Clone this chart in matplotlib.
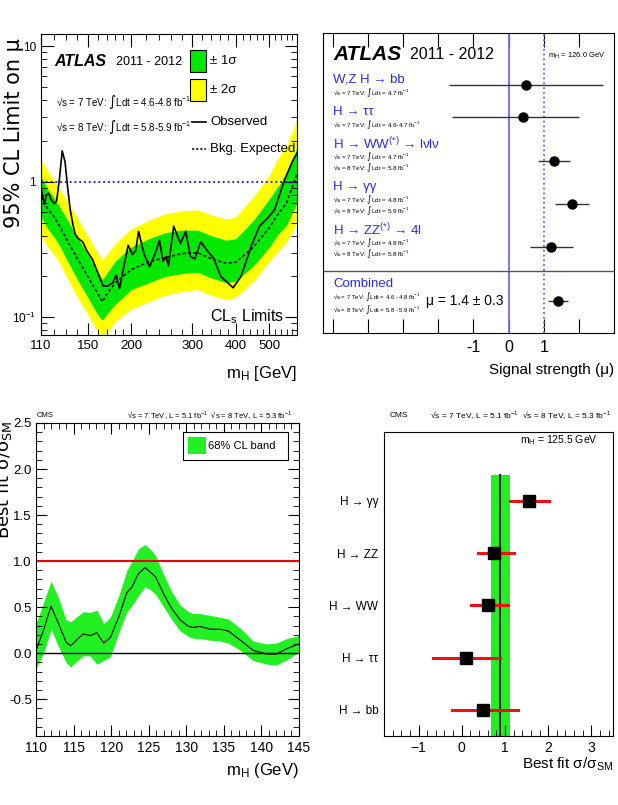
import matplotlib
matplotlib.use("Agg")
import matplotlib.pyplot as plt
from matplotlib.patches import Rectangle
from matplotlib.ticker import FixedLocator, FixedFormatter, NullFormatter, LogLocator, MultipleLocator

plt.rcParams['font.family'] = ['Liberation Sans', 'DejaVu Sans']
plt.rcParams['mathtext.default'] = 'regular'

W, H = 618, 805

# ---- ATLAS limit (top left) ----
mass_obs = [110, 111, 112.5, 114, 115.8, 117.5, 120, 122, 124.3, 126.6, 129, 131, 133.5, 136, 138,
            141, 145, 149, 155, 160.6, 166, 171, 177, 181, 185, 190, 196, 201.5, 206, 210,
            218, 226, 236, 241, 247, 252, 256, 265, 277, 287, 296, 305, 317, 331, 346,
            362, 379, 393, 414, 442, 468, 494, 517, 552, 584, 600]
obs = [0.92, 0.80, 0.68, 0.80, 0.82, 0.74, 0.69, 0.72, 1.05, 1.69, 1.40, 0.95, 0.62, 0.48, 0.41,
       0.38, 0.36, 0.31, 0.265, 0.21, 0.17, 0.17, 0.18, 0.205, 0.163, 0.23, 0.34, 0.29, 0.31, 0.43,
       0.29, 0.236, 0.31, 0.37, 0.26, 0.28, 0.24, 0.47, 0.35, 0.43, 0.28, 0.27, 0.36, 0.31, 0.27,
       0.20, 0.18, 0.165, 0.20, 0.33, 0.47, 0.54, 0.62, 1.03, 1.44, 1.62]

mass_exp = [110, 115, 120, 125, 130, 140, 150, 160, 165, 170, 180, 200, 225, 250, 280, 310,
            340, 375, 400, 450, 500, 525, 560, 600]
exp_lim = [0.77, 0.63, 0.55, 0.46, 0.38, 0.27, 0.20, 0.15, 0.13, 0.148, 0.18, 0.225, 0.257, 0.275,
           0.295, 0.30, 0.27, 0.25, 0.255, 0.33, 0.46, 0.56, 0.70, 1.15]
one_hi = [1.09, 0.88, 0.76, 0.64, 0.54, 0.39, 0.29, 0.22, 0.19, 0.21, 0.26, 0.33, 0.38, 0.42,
          0.44, 0.44, 0.40, 0.37, 0.38, 0.52, 0.75, 0.90, 1.12, 1.80]
one_lo = [0.55, 0.45, 0.39, 0.33, 0.27, 0.19, 0.14, 0.105, 0.095, 0.105, 0.125, 0.16, 0.18, 0.20,
          0.21, 0.215, 0.195, 0.18, 0.185, 0.24, 0.33, 0.40, 0.48, 0.70]
two_hi = [1.45, 1.20, 1.02, 0.87, 0.74, 0.54, 0.40, 0.30, 0.265, 0.29, 0.35, 0.45, 0.52, 0.58,
          0.61, 0.62, 0.57, 0.53, 0.55, 0.78, 1.12, 1.45, 1.85, 2.90]
two_lo = [0.40, 0.33, 0.29, 0.245, 0.20, 0.14, 0.105, 0.078, 0.068, 0.077, 0.093, 0.115, 0.13,
          0.145, 0.155, 0.16, 0.145, 0.135, 0.14, 0.185, 0.26, 0.30, 0.36, 0.50]

# ---- ATLAS signal strength (top right) ----
atlas_channels = ["W,Z H → bb", "H → ττ", "H → WW$^{(*)}$ → lνlν", "H → γγ", "H → ZZ$^{(*)}$ → 4l"]
atlas_lumi = [["√s = 7 TeV: ∫Ldt = 4.7 fb$^{-1}$"],
              ["√s = 7 TeV: ∫Ldt = 4.6-4.7 fb$^{-1}$"],
              ["√s = 7 TeV: ∫Ldt = 4.7 fb$^{-1}$", "√s = 8 TeV: ∫Ldt = 5.8 fb$^{-1}$"],
              ["√s = 7 TeV: ∫Ldt = 4.8 fb$^{-1}$", "√s = 8 TeV: ∫Ldt = 5.9 fb$^{-1}$"],
              ["√s = 7 TeV: ∫Ldt = 4.8 fb$^{-1}$", "√s = 8 TeV: ∫Ldt = 5.8 fb$^{-1}$"]]
atlas_mu = [0.5, 0.4, 1.3, 1.8, 1.2]
atlas_lo = [-1.7, -1.6, 0.85, 1.33, 0.6]
atlas_hi = [2.7, 2.0, 1.75, 2.3, 1.82]
comb_mu, comb_lo, comb_hi = 1.4, 1.13, 1.68
comb_lumi = ["√s = 7 TeV: ∫Ldt = 4.6 - 4.8 fb$^{-1}$", "√s = 8 TeV: ∫Ldt = 5.8 - 5.9 fb$^{-1}$"]

# ---- CMS best fit vs mass (bottom left) ----
mass_cms = [110, 111, 112, 113, 114, 114.6, 115.5, 116.3, 117.2, 118.1, 119, 119.9, 121, 122.1,
            122.8, 123.6, 124.5, 125.2, 125.9, 127, 128.1, 129.2, 130.3, 131, 131.8, 133.2, 134.5,
            135.6, 137.2, 138.9, 140.7, 142, 143.4, 145]
best = [0.03, 0.25, 0.51, 0.32, 0.12, 0.08, 0.15, 0.21, 0.19, 0.22, 0.11, 0.17, 0.39, 0.66,
        0.72, 0.86, 0.93, 0.88, 0.83, 0.64, 0.48, 0.36, 0.29, 0.28, 0.29, 0.26, 0.26,
        0.24, 0.14, 0.03, -0.01, -0.01, 0.05, 0.10]
best_hi = [0.32, 0.55, 0.78, 0.60, 0.36, 0.34, 0.40, 0.45, 0.44, 0.47, 0.32, 0.39, 0.62, 0.90,
           1.00, 1.13, 1.18, 1.13, 1.06, 0.85, 0.66, 0.52, 0.45, 0.43, 0.43, 0.41, 0.39,
           0.37, 0.27, 0.13, 0.10, 0.11, 0.16, 0.19]
best_lo = [-0.17, 0.00, 0.26, 0.07, -0.10, -0.15, -0.08, -0.03, -0.03, -0.12, -0.08, -0.04, 0.22, 0.45,
           0.52, 0.62, 0.72, 0.69, 0.64, 0.50, 0.36, 0.24, 0.18, 0.16, 0.16, 0.14, 0.13,
           0.11, 0.03, -0.08, -0.12, -0.13, -0.07, 0.01]

# ---- CMS per channel (bottom right) ----
cms_channels = ["H → bb", "H → ττ", "H → WW", "H → ZZ", "H → γγ"]
cms_mu = [0.49, 0.09, 0.60, 0.74, 1.55]
cms_lo = [-0.23, -0.67, 0.21, 0.37, 1.11]
cms_hi = [1.31, 0.88, 1.06, 1.20, 2.03]
cms_comb, cms_comb_lo, cms_comb_hi = 0.88, 0.67, 1.11

GREEN = "#00e800"
CMS_GREEN = "#22f022"
YELLOW = "#ffff00"
BLUE_TXT = "#2a2ae0"


def box(x0, y0, x1, y1):
    return [x0 / W, 1 - y1 / H, (x1 - x0) / W, (y1 - y0) / H]


def ftext(x, y, s, **kw):
    fig.text(x / W, 1 - y / H, s, **kw)


fig = plt.figure(figsize=(W / 100, H / 100), dpi=100)

# ================= top left =================
ax1 = fig.add_axes(box(41, 34, 297, 335))
ax1.fill_between(mass_exp, two_lo, two_hi, color=YELLOW, lw=0)
ax1.fill_between(mass_exp, one_lo, one_hi, color=GREEN, lw=0)
ax1.plot(mass_exp, exp_lim, color="black", ls=(0, (2, 1.5)), lw=1.1)
ax1.plot(mass_obs, obs, color="black", lw=1.2)
ax1.axhline(1, color="#1010cc", ls=":", lw=1.3)
ax1.set_xscale("log")
ax1.set_yscale("log")
ax1.set_xlim(110, 600)
ax1.set_ylim(0.074, 12.3)
ax1.xaxis.set_major_locator(FixedLocator([110, 150, 200, 300, 400, 500]))
ax1.xaxis.set_major_formatter(FixedFormatter(["110", "150", "200", "300", "400", "500"]))
minors = [m for m in list(range(120, 200, 10)) + list(range(220, 600, 20)) if m not in (150, 300, 400, 500)]
ax1.xaxis.set_minor_locator(FixedLocator(minors))
ax1.xaxis.set_minor_formatter(NullFormatter())
ax1.yaxis.set_major_locator(FixedLocator([0.1, 1, 10]))
ax1.yaxis.set_major_formatter(FixedFormatter(["10$^{-1}$", "1", "10"]))
ax1.yaxis.set_minor_locator(LogLocator(subs=range(2, 10)))
ax1.yaxis.set_minor_formatter(NullFormatter())
ax1.tick_params(which="both", direction="in", top=True, right=True)
ax1.tick_params(which="major", length=9, labelsize=9.5)
ax1.tick_params(which="minor", length=4.5)
ax1.tick_params(axis="y", labelsize=8.5)

ax1.add_patch(Rectangle((0.582, 0.874), 0.0625, 0.073, transform=ax1.transAxes,
                        facecolor=GREEN, edgecolor="black", lw=0.8))
ax1.add_patch(Rectangle((0.582, 0.777), 0.0625, 0.073, transform=ax1.transAxes,
                        facecolor=YELLOW, edgecolor="black", lw=0.8))
ax1.plot([0.59, 0.645], [0.708, 0.708], color="black", lw=1.2, transform=ax1.transAxes)
ax1.plot([0.59, 0.645], [0.618, 0.618], color="black", ls=(0, (1.5, 1.2)), lw=1.1, transform=ax1.transAxes)
ax1.text(0.66, 0.91, "± 1σ", transform=ax1.transAxes, fontsize=9.5, va="center")
ax1.text(0.66, 0.813, "± 2σ", transform=ax1.transAxes, fontsize=9.5, va="center")
ax1.text(0.66, 0.708, "Observed", transform=ax1.transAxes, fontsize=9.5, va="center")
ax1.text(0.66, 0.618, "Bkg. Expected", transform=ax1.transAxes, fontsize=9.5, va="center")

ftext(54, 62, "ATLAS", fontsize=11.5, fontweight="bold", fontstyle="italic", va="center")
ftext(116, 62, "2011 - 2012", fontsize=9, va="center")
ftext(56, 102, "√s = 7 TeV: ∫Ldt = 4.6-4.8 fb$^{-1}$", fontsize=7, va="center")
ftext(56, 127, "√s = 8 TeV: ∫Ldt = 5.8-5.9 fb$^{-1}$", fontsize=7, va="center")
ftext(284, 317, "CL$_{s}$ Limits", fontsize=11.5, va="center", ha="right")
ftext(297, 373, "m$_{H}$ [GeV]", fontsize=12, va="center", ha="right")
ftext(14, 38, "95% CL Limit on μ", fontsize=15, rotation=90, ha="center", va="top",
      family=["DejaVu Sans"])

# ================= top right =================
ax2 = fig.add_axes(box(323, 33, 614, 333))
ax2.set_xlim(-5.28, 3.0)
ax2.set_ylim(300, 0)
ax2.axvline(0, color="#6b6bf0", lw=1.3)
ax2.axvline(1, color="#6666dd", ls=":", lw=1.3)
tr = ax2.get_yaxis_transform()

y = 47
for name, lumis, m, lo, hi in zip(atlas_channels, atlas_lumi, atlas_mu, atlas_lo, atlas_hi):
    ax2.text(0.035, y, name, transform=tr, color=BLUE_TXT, fontsize=9.5, va="center")
    ly = y + 13
    for line in lumis:
        ax2.text(0.035, ly, line, transform=tr, fontsize=4.5, va="center")
        ly += 11
    py = y + 5 if len(lumis) == 1 else y + 17
    ax2.errorbar([m], [py], xerr=[[m - lo], [hi - m]], fmt="o", color="black", ecolor="#333333",
                 ms=6.5, elinewidth=1.0, capsize=0)
    y = ly - 11 + 19

ax2.axhline(238, color="#555555", lw=1)
ax2.text(0.035, 251, "Combined", transform=tr, color=BLUE_TXT, fontsize=9.5, va="center")
ax2.text(0.035, 264, comb_lumi[0], transform=tr, fontsize=4.3, va="center")
ax2.text(0.035, 277, comb_lumi[1], transform=tr, fontsize=4.3, va="center")
ax2.errorbar([comb_mu], [268], xerr=[[comb_mu - comb_lo], [comb_hi - comb_mu]], fmt="o", color="black",
             ecolor="#333333", ms=6.5, elinewidth=1.0, capsize=0)
ax2.text(0.355, 268, "μ = 1.4 ± 0.3", transform=tr, fontsize=10, va="center")
ax2.text(0.035, 22, "ATLAS", transform=tr, fontsize=15, fontweight="bold",
         fontstyle="italic", va="center")
ax2.text(0.299, 22, "2011 - 2012", transform=tr, fontsize=11.5, va="center")
ax2.text(0.772, 23, "m$_{H}$ = 126.0 GeV", transform=tr, fontsize=5.5, va="center")

ax2.set_xticks(range(-5, 3))
ax2.set_xticklabels(["", "", "", "", "-1", "0", "1", ""])
ax2.set_yticks([])
ax2.tick_params(axis="x", direction="in", top=True, length=10, labelsize=11.5, pad=5)
ftext(614, 370, "Signal strength (μ)", fontsize=11, ha="right", va="center")

# ================= bottom left =================
ax3 = fig.add_axes(box(36, 423, 299, 736))
ax3.fill_between(mass_cms, best_lo, best_hi, color=CMS_GREEN, lw=0)
ax3.plot(mass_cms, best, color="black", lw=0.8)
ax3.axhline(1, color="#ee0000", lw=1.5)
ax3.axhline(0, color="black", lw=1)
ax3.set_xlim(110, 145)
ax3.set_ylim(-0.9, 2.5)
ax3.xaxis.set_major_locator(MultipleLocator(5))
ax3.xaxis.set_minor_locator(MultipleLocator(1))
ax3.yaxis.set_major_locator(FixedLocator([-0.5, 0, 0.5, 1.0, 1.5, 2.0, 2.5]))
ax3.yaxis.set_major_formatter(FixedFormatter(["-0.5", "0.0", "0.5", "1.0", "1.5", "2.0", "2.5"]))
ax3.yaxis.set_minor_locator(MultipleLocator(0.1))
ax3.tick_params(which="both", direction="in", top=True, right=True, labelsize=10)
ax3.tick_params(axis="y", labelsize=9.5, pad=3)
ax3.tick_params(which="major", length=8)
ax3.tick_params(which="minor", length=4)
# legend box
ax3.add_patch(Rectangle((0.559, 0.882), 0.399, 0.089, transform=ax3.transAxes,
                        facecolor="white", edgecolor="black", lw=0.8, zorder=5))
ax3.add_patch(Rectangle((0.578, 0.901), 0.068, 0.054, transform=ax3.transAxes,
                        facecolor=CMS_GREEN, lw=0, zorder=6))
ax3.text(0.654, 0.927, "68% CL band", transform=ax3.transAxes, fontsize=8, va="center", zorder=7)
ftext(37, 415, "CMS", fontsize=5.5, va="center")
ftext(292, 415, "√s = 7 TeV, L = 5.1 fb$^{-1}$  √s = 8 TeV, L = 5.3 fb$^{-1}$", fontsize=5.5,
      va="center", ha="right")
ftext(299, 770, "m$_{H}$ (GeV)", fontsize=12, ha="right", va="center")
ftext(4, 421, "Best fit σ/σ$_{SM}$", fontsize=13, rotation=90, ha="center", va="top",
      family=["DejaVu Sans"])

# ================= bottom right =================
ax4 = fig.add_axes(box(384, 432, 613, 736))
rows = list(range(len(cms_channels)))
ax4.fill_betweenx([-0.5, 4.5], cms_comb_lo, cms_comb_hi, color=CMS_GREEN, lw=0)
ax4.plot([cms_comb, cms_comb], [-0.5, 4.5], color="black", lw=1.3)
for r, m, lo, hi in zip(rows, cms_mu, cms_lo, cms_hi):
    ax4.plot([lo, hi], [r, r], color="#ee1111", lw=2.2)
ax4.plot(cms_mu, rows, "s", color="black", ms=8)
ax4.set_xlim(-1.8, 3.5)
ax4.set_ylim(-0.5, 5.32)
ax4.set_yticks(rows)
ax4.set_yticklabels(cms_channels)
ax4.xaxis.set_major_locator(MultipleLocator(1))
ax4.xaxis.set_minor_locator(MultipleLocator(0.2))
ax4.tick_params(axis="y", length=0, labelsize=8.5, pad=4)
ax4.tick_params(axis="x", which="both", direction="in", labelsize=10)
ax4.tick_params(axis="x", which="major", length=8)
ax4.tick_params(axis="x", which="minor", length=4)
ftext(520, 440, "m$_{H}$ = 125.5 GeV", fontsize=7.5, va="center")
ftext(390, 415, "CMS", fontsize=6, va="center")
ftext(611, 415, "√s = 7 TeV, L = 5.1 fb$^{-1}$  √s = 8 TeV, L = 5.3 fb$^{-1}$", fontsize=6,
      va="center", ha="right")
ftext(613, 764, "Best fit σ/σ$_{SM}$", fontsize=11, ha="right", va="center")

fig.savefig("out.png", dpi=100)
